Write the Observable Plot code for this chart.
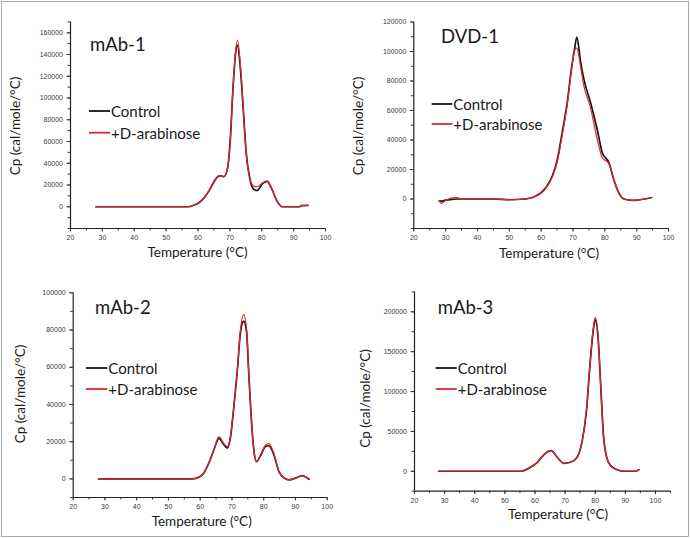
<!DOCTYPE html>
<html>
<head>
<meta charset="utf-8">
<script src="https://cdn.jsdelivr.net/npm/d3@7"></script>
<script src="https://cdn.jsdelivr.net/npm/@observablehq/plot@0.6"></script>
<style>
  html, body { margin: 0; padding: 0; background: #fff; }
  #root { position: relative; width: 690px; height: 538px; overflow: hidden; background: #fff; }
  #frame { position: absolute; left: 1px; top: 1px; width: 686px; height: 534px; border: 1px solid #ababab; box-sizing: content-box; }
  .panel { position: absolute; }
  #overlay { position: absolute; left: 0; top: 0; pointer-events: none; }
</style>
</head>
<body>
<div id="root"><div id="frame"></div></div>
<script>
// ---------- data ----------
const seriesNames = ["Control", "+D-arabinose"];
const panelTitles = ["mAb-1", "DVD-1", "mAb-2", "mAb-3"];
const xLabel = "Temperature (°C)";
const yLabel = "Cp (cal/mole/°C)";

// mAb-1
const mab1Temp      = [28, 35, 40, 45, 50, 55, 57, 58.5, 60.3, 62, 63.4, 65.5, 66.5, 67.3, 68.1, 69.2, 70.2, 70.9, 71.8, 72.4, 73.3, 74.2, 75.1, 76.2, 77.5, 78.6, 80.3, 81.7, 83.2, 84.8, 86.4, 88, 90, 91.8, 92.5, 94.5];
const mab1Control   = [0, 0, 0, 0, 0, 0, 0, 1200, 3700, 8500, 14400, 25200, 28200, 28500, 27600, 34400, 65000, 104800, 141600, 148500, 127000, 89500, 50500, 26500, 16000, 15000, 21500, 23300, 16000, 5200, 0, 0, 0, 0, 1000, 1200];
const mab1Arabinose = [0, 0, 0, 0, 0, 0, 0, 1200, 3700, 8500, 14400, 25200, 28200, 28500, 27600, 34400, 65000, 104800, 143000, 153000, 130500, 90000, 49700, 27000, 19000, 18400, 22000, 23500, 16000, 5200, 0, 0, 0, 0, 1000, 1200];
const mab1YTicks    = [0, 20000, 40000, 60000, 80000, 100000, 120000, 140000, 160000];

// DVD-1
const dvd1Temp      = [28, 28.6, 30, 32, 33.5, 35, 40, 45, 50, 55, 58.2, 61.4, 63.5, 65.1, 66.6, 68.2, 69.5, 70.6, 71.2, 72.4, 73.4, 75.5, 77.6, 79.2, 81.3, 82.8, 84.4, 86, 88.6, 91, 93.8, 94.7];
const dvd1Control   = [-1500, -1500, -800, -300, 0, 0, 0, 0, -500, 0, 1800, 7500, 15500, 26900, 45000, 65500, 88200, 103000, 109800, 92700, 81400, 65500, 47300, 31400, 24500, 13200, 4100, 0, -900, -500, 500, 1000];
const dvd1Arabinose = [-1000, -3000, -1000, 800, 1000, 0, 0, 0, -500, 0, 1800, 7000, 15000, 25500, 43000, 64000, 87000, 101000, 102300, 89300, 76800, 62000, 40500, 28000, 24000, 13200, 4100, 0, -900, -500, 500, 1000];
const dvd1YTicks    = [0, 20000, 40000, 60000, 80000, 100000, 120000];

// mAb-2
const mab2Temp      = [28, 35, 40, 45, 50, 55, 57.5, 60.6, 62.7, 64.3, 65.9, 67.4, 68.5, 69.5, 70.6, 71.7, 72.7, 73.7, 74.6, 75.3, 76.2, 76.9, 77.7, 79, 80.6, 81.6, 83.2, 84.8, 86.4, 88, 90, 92.1, 93.7, 94.3];
const mab2Control   = [0, 0, 0, 0, 0, 0, 0, 2100, 8400, 15500, 21800, 18500, 16500, 22000, 38700, 58400, 79000, 84800, 79000, 56600, 29800, 15500, 9300, 12500, 17500, 17800, 13000, 3900, 500, -500, 400, 1800, 500, -200];
const mab2Arabinose = [0, 0, 0, 0, 0, 0, 0, 2100, 8400, 15500, 22700, 19100, 17300, 22700, 38700, 58400, 80500, 88400, 80500, 56600, 29800, 15500, 9300, 12900, 18200, 19000, 13800, 3900, 500, -500, 400, 1800, 500, -200];
const mab2YTicks    = [0, 20000, 40000, 60000, 80000, 100000];

// mAb-3
const mab3Temp      = [28, 35, 40, 45, 50, 55.2, 58.5, 60.8, 63, 65.4, 67.4, 69.6, 71.8, 74, 75.7, 77.1, 78.2, 79.4, 80, 80.9, 81.8, 82.7, 83.8, 85.1, 87.3, 89.5, 93.4, 94.5];
const mab3Control   = [0, 0, 0, 0, 0, 0, 5000, 11300, 21000, 26000, 17600, 10000, 11300, 17600, 38500, 76200, 130500, 178000, 190000, 170000, 109700, 46900, 17600, 7100, 2000, 0, 0, 2000];
const mab3Arabinose = [0, 0, 0, 0, 0, 0, 5000, 11300, 21000, 26000, 17600, 10000, 11300, 17600, 38500, 76200, 130500, 180700, 193000, 172400, 109700, 46900, 17600, 7100, 2000, 0, 0, 2000];
const mab3YTicks    = [0, 50000, 100000, 150000, 200000];

const xTicks = [20, 30, 40, 50, 60, 70, 80, 90, 100];

// ---------- layout ----------
const colors = { control: "#141414", arabinose: "#e3262d" };
const FONT = "Lato, 'Open Sans', sans-serif";

const panels = [
  { title: panelTitles[0], temp: mab1Temp, control: mab1Control, arab: mab1Arabinose, yTicks: mab1YTicks, yMinorStep: 10000,
    xDomain: [20, 100], yDomain: [-20000, 170000], left: 0, top: 0, ml: 70, mr: 20, mt: 21.4, mb: 41,
    titlePos: [90, 50.5], legend: [89, 110, 111, 132.7], xl: [197.5, 257.3], yl: [15, 126] },
  { title: panelTitles[1], temp: dvd1Temp, control: dvd1Control, arab: dvd1Arabinose, yTicks: dvd1YTicks, yMinorStep: 10000,
    xDomain: [20, 100], yDomain: [-20000, 120000], left: 345, top: 0, ml: 68.3, mr: 22, mt: 21.5, mb: 41,
    titlePos: [441, 42.7], legend: [431.7, 452.3, 104, 124], xl: [549, 258], yl: [358, 126] },
  { title: panelTitles[2], temp: mab2Temp, control: mab2Control, arab: mab2Arabinose, yTicks: mab2YTicks, yMinorStep: 10000,
    xDomain: [20, 100], yDomain: [-10000, 100000], left: 0, top: 269, ml: 72.7, mr: 18.3, mt: 23.3, mb: 41,
    titlePos: [95, 314], legend: [86, 107.3, 368, 389], xl: [201.7, 525.7], yl: [20, 394] },
  { title: panelTitles[3], temp: mab3Temp, control: mab3Control, arab: mab3Arabinose, yTicks: mab3YTicks, yMinorStep: 25000,
    xDomain: [20, 105], yDomain: [-25000, 225000], left: 345, top: 269, ml: 69, mr: 20, mt: 22.4, mb: 47.3,
    titlePos: [437.7, 314], legend: [435.7, 456.7, 368, 389], xl: [558, 519], yl: [365, 398.5] }
];

const root = document.getElementById("root");

function range(a, b, step) { return d3.range(a, b + step / 2, step); }

for (const cfg of panels) {
  const ctrl = cfg.temp.map((t, i) => ({ T: t, cp: cfg.control[i] }));
  const arab = cfg.temp.map((t, i) => ({ T: t, cp: cfg.arab[i] }));
  const xMinor = range(cfg.xDomain[0], cfg.xDomain[1], 5);
  const yMinor = range(cfg.yDomain[0], cfg.yDomain[1], cfg.yMinorStep);
  const xMajor = xTicks.filter(t => t >= cfg.xDomain[0] && t <= cfg.xDomain[1]);
  const chart = Plot.plot({
    width: 345, height: 269,
    marginLeft: cfg.ml, marginRight: cfg.mr, marginTop: cfg.mt, marginBottom: cfg.mb,
    x: { domain: cfg.xDomain },
    y: { domain: cfg.yDomain },
    style: { fontFamily: "'Liberation Sans', Arial, sans-serif", fontSize: "7px", color: "#3a3a3a", background: "transparent", overflow: "visible" },
    marks: [
      Plot.axisX({ ticks: xMinor, tickSize: 2.5, tickFormat: () => "", label: null }),
      Plot.axisX({ ticks: xMajor, tickSize: 3.5, tickPadding: 3, tickFormat: d => String(d), label: null }),
      Plot.axisY({ ticks: yMinor, tickSize: 2.5, tickFormat: () => "", label: null }),
      Plot.axisY({ ticks: cfg.yTicks, tickSize: 3.5, tickPadding: 4, tickFormat: d => String(d), label: null }),
      Plot.ruleX([cfg.xDomain[0]], { stroke: "#222", strokeWidth: 1.2 }),
      Plot.ruleY([cfg.yDomain[0]], { stroke: "#222", strokeWidth: 1.2 }),
      Plot.line(ctrl, { x: "T", y: "cp", stroke: colors.control, strokeWidth: 1.7, curve: "monotone-x" }),
      Plot.line(arab, { x: "T", y: "cp", stroke: colors.arabinose, strokeWidth: 1.2, curve: "monotone-x" })
    ]
  });
  const wrap = document.createElement("div");
  wrap.className = "panel";
  wrap.style.left = cfg.left + "px";
  wrap.style.top = cfg.top + "px";
  wrap.appendChild(chart);
  root.appendChild(wrap);
}

// ---------- text overlay: titles, legends, axis labels ----------
const ns = "http://www.w3.org/2000/svg";
const ov = document.createElementNS(ns, "svg");
ov.setAttribute("id", "overlay");
ov.setAttribute("width", 690);
ov.setAttribute("height", 538);
function txt(str, x, y, size, attrs = {}) {
  const t = document.createElementNS(ns, "text");
  t.setAttribute("x", x); t.setAttribute("y", y);
  t.setAttribute("font-family", FONT);
  t.setAttribute("font-size", size);
  t.setAttribute("fill", "#1a1a1a");
  for (const k in attrs) t.setAttribute(k, attrs[k]);
  t.textContent = str;
  ov.appendChild(t);
  return t;
}
function seg(x1, x2, y, color) {
  const l = document.createElementNS(ns, "line");
  l.setAttribute("x1", x1); l.setAttribute("x2", x2);
  l.setAttribute("y1", y); l.setAttribute("y2", y);
  l.setAttribute("stroke", color); l.setAttribute("stroke-width", 1.8);
  ov.appendChild(l);
}
for (const cfg of panels) {
  txt(cfg.title, cfg.titlePos[0], cfg.titlePos[1], 18.5);
  const [lx1, lx2, ly1, ly2] = cfg.legend;
  seg(lx1, lx2, ly1, colors.control);
  seg(lx1, lx2, ly2, colors.arabinose);
  txt(seriesNames[0], lx2 + 1, ly1, 15, { "dominant-baseline": "central" });
  txt(seriesNames[1], lx2 + 1, ly2, 15, { "dominant-baseline": "central" });
  txt(xLabel, cfg.xl[0], cfg.xl[1], 13.5, { "text-anchor": "middle" });
  txt(yLabel, 0, 0, 13.5, { "text-anchor": "middle", "dominant-baseline": "central",
    transform: `translate(${cfg.yl[0]},${cfg.yl[1]}) rotate(-90)` });
}
root.appendChild(ov);
</script>
</body>
</html>
